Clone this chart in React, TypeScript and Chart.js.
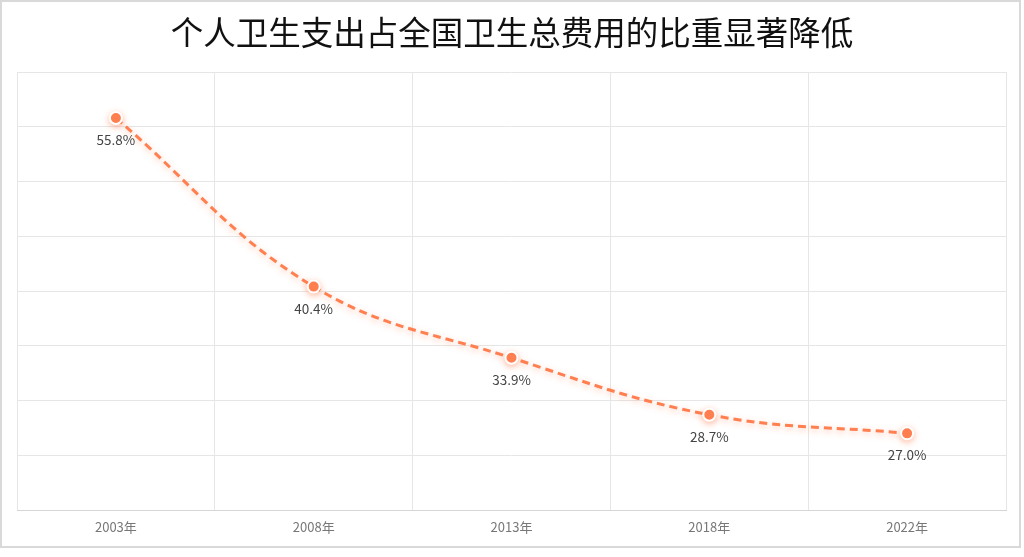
import React, { useEffect, useRef } from "react";
import { Chart, registerables } from "chart.js";

Chart.register(...registerables);

const titleText = "个人卫生支出占全国卫生总费用的比重显著降低";
const categories = ["2003年", "2008年", "2013年", "2018年", "2022年"];
const shareValues = [55.8, 40.4, 33.9, 28.7, 27.0];
const yMin = 20;
const yMax = 60;
const yStep = 5;

const LINE_COLOR = "#FF7F50";
const CJK = '"Noto Sans CJK SC", "Noto Sans", sans-serif';

const framePlugin = {
  id: "frameAndTitle",
  beforeDraw(chart: any) {
    const ctx = chart.ctx;
    ctx.save();
    ctx.fillStyle = "#ffffff";
    ctx.fillRect(0, 0, chart.width, chart.height);
    ctx.strokeStyle = "#d9d9d9";
    ctx.lineWidth = 2;
    ctx.strokeRect(1, 1, 1019, 546);
    ctx.fillStyle = "#111111";
    ctx.font = `32.5px ${CJK}`;
    ctx.textAlign = "center";
    ctx.textBaseline = "middle";
    ctx.fillText(titleText, 512, 33);
    ctx.restore();
  },
  beforeDatasetDraw(chart: any) {
    const ctx = chart.ctx;
    ctx.save();
    ctx.shadowColor = "rgba(255,127,80,0.45)";
    ctx.shadowBlur = 6;
    ctx.shadowOffsetX = 0;
    ctx.shadowOffsetY = 2;
  },
  afterDatasetDraw(chart: any) {
    chart.ctx.restore();
  },
  afterDatasetsDraw(chart: any) {
    const ctx = chart.ctx;
    const meta = chart.getDatasetMeta(0);
    ctx.save();
    ctx.fillStyle = "#444444";
    ctx.font = `13.5px ${CJK}`;
    ctx.textAlign = "center";
    ctx.textBaseline = "middle";
    meta.data.forEach((pt: any, i: number) => {
      ctx.fillText(shareValues[i].toFixed(1) + "%", pt.x, pt.y + 22);
    });
    ctx.restore();
  },
};

export default function App() {
  const canvasRef = useRef<HTMLCanvasElement | null>(null);

  useEffect(() => {
    document.body.style.margin = "0";
    const canvas = canvasRef.current!;
    const chart = new Chart(canvas, {
      type: "line",
      data: {
        labels: categories,
        datasets: [
          {
            data: shareValues,
            borderColor: LINE_COLOR,
            backgroundColor: LINE_COLOR,
            borderWidth: 3,
            borderDash: [8, 5],
            tension: 0.4,
            pointRadius: 6,
            pointBorderWidth: 2,
            pointBorderColor: "#ffffff",
            pointBackgroundColor: LINE_COLOR,
            fill: false,
          },
        ],
      },
      options: {
        responsive: false,
        animation: false,
        devicePixelRatio: 1,
        layout: { padding: { left: 17, right: 18, top: 72, bottom: 0 } },
        plugins: {
          legend: { display: false },
          title: { display: false },
          tooltip: { enabled: false },
        },
        scales: {
          x: {
            offset: true,
            grid: {
              offset: true,
              color: "#e6e6e6",
              lineWidth: 1,
              drawTicks: false,
            },
            border: { color: "#d6d6d6", width: 1 },
            ticks: {
              color: "#777777",
              font: { family: CJK, size: 13 },
              padding: 9,
            },
            afterFit(scale: any) {
              scale.height = 47;
            },
          },
          y: {
            min: yMin,
            max: yMax,
            grid: { color: "#e6e6e6", lineWidth: 1, drawTicks: false },
            border: { display: false },
            ticks: { display: false, stepSize: yStep },
            afterFit(scale: any) {
              scale.width = 0;
            },
          },
        },
      },
      plugins: [framePlugin],
    });
    return () => chart.destroy();
  }, []);

  return (
    <div style={{ position: "absolute", left: 0, top: 0, width: 1024, height: 557 }}>
      <canvas ref={canvasRef} width={1024} height={557} style={{ width: 1024, height: 557, display: "block" }} />
    </div>
  );
}
